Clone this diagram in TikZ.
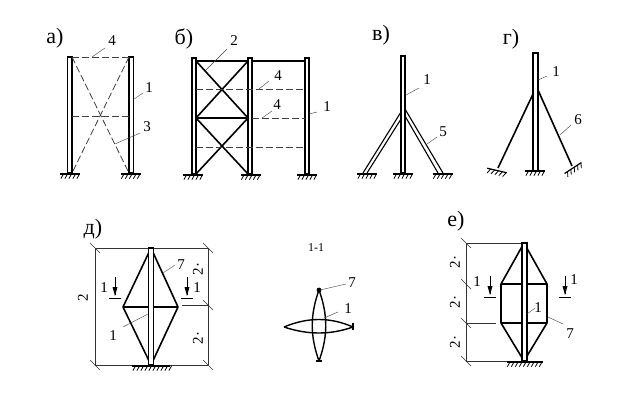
\documentclass[tikz,border=0pt]{standalone}
\usepackage{fontspec}
\setmainfont{Liberation Serif}
\tikzset{
  x=1pt,y=-1pt,
  col/.style={draw=black,line width=1.3pt,fill=white},
  thin line/.style={line width=1.1pt,black},
  bar/.style={line width=1.6pt,black,line join=round},
  dash line/.style={line width=0.8pt,black!75,dash pattern=on 7pt off 3pt},
  leader/.style={line width=0.4pt,black!75},
  dimline/.style={line width=0.7pt,black!80},
  lab/.style={inner sep=0pt,font=\fontsize{15}{16}\selectfont},
  title/.style={inner sep=0pt,font=\fontsize{22}{24}\selectfont},
  dimlab/.style={inner sep=0pt,font=\fontsize{15}{16}\selectfont,rotate=90},
  pics/ground/.style={code={
    \draw[line width=1.2pt] (-#1,0) -- (#1,0);
    \pgfmathtruncatemacro{\gN}{(2*#1-2)/4}
    \foreach \gi in {0,...,\gN}
      \draw[line width=0.8pt] ({-#1+3.5+4*\gi},0) -- ++(-2.6,4.6);
  }},
}
\newcommand{\tick}[2]{\draw[dimline] ({#1-5},{#2-5}) -- ({#1+5},{#2+5});}
\newcommand{\secmark}[3]{%
  \draw[line width=1pt] ({#1-6},#3) -- ({#1+6},#3);
  \draw[line width=0.7pt] (#1,#2) -- (#1,{#3-3});
  \fill ({#1-2.5},{#3-11}) -- ({#1+2.5},{#3-11}) -- (#1,{#3-2}) -- cycle;}
\begin{document}
\begin{tikzpicture}
\useasboundingbox[fill=white] (0,0) rectangle (640,409);
% a
\node[title] (ta) at (55,38) {а)};
\draw[col] (67.5,57) rectangle (72,173);
\draw[col] (129,57) rectangle (133.5,173);
\draw[dash line] (72,57) -- (129,57);
\draw[dash line] (72,116) -- (129,116);
\draw[dash line] (72,57) -- (129,173);
\draw[dash line] (129,57) -- (72,173);
\pic at (70,174) {ground=10};
\pic at (130.5,174) {ground=10};
\node[lab] (a4) at (112,41) {4};
\node[lab] (a1) at (149,88) {1};
\node[lab] (a3) at (147,127) {3};
\draw[leader] (92,57) -- (105,48);
\draw[leader] (134,99) -- (143,93);
\draw[leader] (115,144) -- (140,133);
% b
\node[title] (tb) at (184,39) {б)};
\draw[col] (192,58) rectangle (196,174);
\draw[col] (248,58) rectangle (252,174);
\draw[col] (305,58) rectangle (309,174);
\draw[thin line] (252,61) -- (305,61);
\draw[bar] (196,61) -- (248,61);
\draw[bar] (196,118) -- (248,118);
\draw[bar] (196,61) -- (248,118) (248,61) -- (196,118) (196,118) -- (248,174) (248,118) -- (196,174);
\draw[dash line] (196,89) -- (305,89);
\draw[dash line] (252,118) -- (305,118);
\draw[dash line] (196,147) -- (305,147);
\pic at (193,175) {ground=10};
\pic at (250.5,175) {ground=10};
\pic at (307,175) {ground=10};
\node[lab] (b2) at (234,41) {2};
\node[lab] (b4a) at (278,76) {4};
\node[lab] (b4b) at (277,105) {4};
\node[lab] (b1) at (327,107) {1};
\draw[leader] (206,70) -- (227,49);
\draw[leader] (259,89) -- (269,81);
\draw[leader] (262,118) -- (272,111);
\draw[leader] (309,114) -- (317,112);
% v
\node[title] (tv) at (381,35) {в)};
\draw[thin line] (363,173) -- (401,112) (367,173) -- (401,119);
\draw[thin line] (405,109) -- (443,173) (405,116) -- (438,173);
\draw[col] (401,56) rectangle (405,173);
\pic at (367,174) {ground=10};
\pic at (403,174) {ground=10};
\pic at (442.5,174) {ground=10};
\node[lab] (v1) at (427,80) {1};
\node[lab] (v5) at (443,132) {5};
\draw[leader] (406,95) -- (419,88);
\draw[leader] (427,144) -- (437,137);
% g
\node[title] (tg) at (511,39) {г)};
\draw[bar] (533,94) -- (498,168);
\draw[bar] (538,90) -- (572,166);
\draw[col] (533,53) rectangle (538,171);
\pic at (535,171) {ground=10};
\pic[rotate=-13] at (497,170.5) {ground=10};
\pic[rotate=33] at (573,168) {ground=10};
\node[lab] (g1) at (556,72) {1};
\node[lab] (g6) at (578,120) {6};
\draw[leader] (538,80) -- (547,76);
\draw[leader] (560,135) -- (571,125);
% d
\node[title] (td) at (93,229) {д)};
\draw[dimline] (95,248) -- (95,365) (208,248) -- (208,365);
\draw[dimline] (95,248) -- (208,248) (95,365) -- (208,365) (182,305) -- (208,305);
\tick{95}{248}\tick{95}{365}\tick{208}{248}\tick{208}{305}\tick{208}{365}
\draw[bar] (151,248) -- (123,307) -- (151,365) -- (178,307) -- cycle;
\draw[bar] (123,307) -- (178,307);
\draw[col,line width=1.6pt] (148.5,248) rectangle (153.5,365);
\pic at (151,366) {ground=19};
\secmark{115}{277}{298}
\secmark{187}{277}{298}
\node[lab] (d1a) at (104,288) {1};
\node[lab] (d1b) at (197,288) {1};
\node[lab] (d7) at (181,265) {7};
\node[lab] (d1c) at (113,336) {1};
\draw[leader] (163,273) -- (175,265);
\draw[leader] (148,314) -- (123,327);
\node[dimlab] (dd1) at (83,298) {2};
\node[dimlab] (dd2) at (198,269) {2·};
\node[dimlab] (dd3) at (198,338) {2·};
% section
\node[inner sep=0pt,font=\fontsize{12}{13}\selectfont] (sec) at (316,248) {1-1};
\draw[bar,line width=1.4pt] (319,290) .. controls (310,315) and (310,336) .. (319,361) .. controls (328,336) and (328,315) .. (319,290);
\draw[bar,line width=1.4pt] (284,327) .. controls (308,317) and (330,317) .. (353,327) .. controls (330,335) and (308,335) .. (284,327);
\fill (319,290) circle (2.4);
\draw[line width=1.2pt] (316,361) -- (322,361) (353,323) -- (353,330);
\node[lab] (s7) at (352,283) {7};
\node[lab] (s1) at (348,309) {1};
\draw[leader] (320,290) -- (346,284);
\draw[leader] (324,318) -- (338,312);
% e
\node[title] (te) at (456,221) {е)};
\draw[dimline] (466,243) -- (466,361);
\draw[dimline] (466,243) -- (522,243) (466,323) -- (496,323) (466,361) -- (543,361);
\tick{466}{243}\tick{466}{284}\tick{466}{323}\tick{466}{361}
\draw[bar] (524,243) -- (501,284) -- (501,323) -- (524,361) -- (547,323) -- (547,284) -- cycle;
\draw[bar] (501,284) -- (547,284) (501,323) -- (547,323);
\draw[col,line width=1.6pt] (522,243) rectangle (527,361);
\pic at (524.5,362) {ground=18};
\secmark{490}{276}{297}
\secmark{565}{276}{297}
\node[lab] (e1a) at (477,282) {1};
\node[lab] (e1b) at (574,280) {1};
\node[lab] (e1c) at (538,308) {1};
\node[lab] (e7) at (570,334) {7};
\draw[leader] (527,314) -- (535,308);
\draw[leader] (548,317) -- (563,324);
\node[dimlab] (ed1) at (455,262) {2·};
\node[dimlab] (ed2) at (455,302) {2·};
\node[dimlab] (ed3) at (455,342) {2·};
\end{tikzpicture}
\end{document}
